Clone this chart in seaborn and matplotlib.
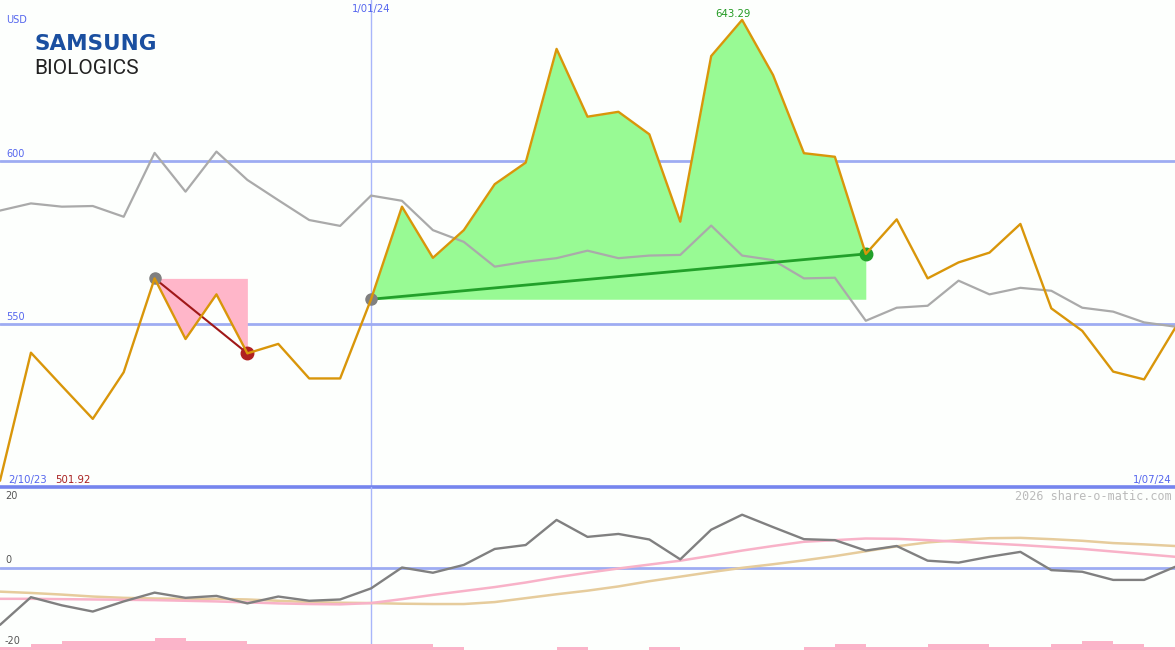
import matplotlib
matplotlib.use("Agg")
import matplotlib.pyplot as plt
import seaborn as sns
import pandas as pd

# weekly closing price (USD)
price = [501.92, 541.2, 531.0, 520.9, 535.2, 564.0, 545.4, 559.1, 541.0, 543.9,
         533.3, 533.3, 557.6, 586.0, 570.3, 578.8, 592.9, 599.5, 634.4, 613.6,
         615.1, 608.2, 581.4, 632.2, 643.29, 626.4, 602.4, 601.3, 571.5, 582.1,
         564.0, 568.9, 571.9, 580.7, 554.8, 547.9, 535.4, 533.0, 548.7]
# moving average
average = [584.8, 587.0, 586.0, 586.2, 582.9, 602.5, 590.6, 602.9, 594.2, 588.0,
           581.9, 580.1, 589.4, 587.8, 578.8, 575.2, 567.6, 569.1, 570.2, 572.5,
           570.2, 571.0, 571.2, 580.2, 571.0, 569.6, 564.0, 564.2, 551.0, 555.0,
           555.6, 563.3, 559.1, 561.1, 560.2, 555.0, 553.8, 550.5, 549.2]
# indicator panel
momentum = [-17.6, -9.1, -11.6, -13.5, -10.4, -7.7, -9.3, -8.7, -11.0, -8.9,
            -10.2, -9.8, -6.4, 0.0, -1.6, 0.8, 5.7, 6.9, 14.6, 9.4,
            10.3, 8.6, 2.5, 11.6, 16.2, 12.4, 8.7, 8.4, 5.2, 6.6,
            2.1, 1.5, 3.3, 4.8, -0.8, -1.3, -3.8, -3.8, 0.2]
signal_fast = [-9.6, -9.6, -9.7, -9.8, -9.9, -10.0, -10.2, -10.4, -10.7, -11.0,
               -11.2, -11.3, -10.9, -9.7, -8.4, -7.2, -6.0, -4.6, -3.0, -1.6,
               -0.3, 0.9, 2.1, 3.6, 5.2, 6.6, 7.9, 8.4, 8.9, 8.8,
               8.4, 7.9, 7.4, 6.9, 6.3, 5.7, 4.9, 4.1, 3.3]
signal_slow = [-7.4, -7.8, -8.3, -8.9, -9.3, -9.5, -9.6, -9.6, -9.8, -10.2,
               -10.6, -10.8, -10.9, -11.1, -11.2, -11.2, -10.6, -9.4, -8.2, -7.1,
               -5.8, -4.2, -2.8, -1.4, -0.1, 1.0, 2.2, 3.5, 5.0, 6.5,
               7.7, 8.4, 9.0, 9.1, 8.7, 8.2, 7.5, 7.1, 6.6]
volume = [1, 2, 3, 3, 3, 4, 3, 3, 2, 2, 2, 2, 2, 2, 1, 0, 0, 0, 1, 0,
          0, 1, 0, 0, 0, 0, 1, 2, 1, 1, 2, 2, 1, 1, 2, 3, 2, 1]

first_date, mid_date, last_date = "2/10/23", "1/01/24", "1/07/24"
mid_idx = 12
down_start, down_end = 5, 8
up_start, up_end = 12, 28
peak_idx = 24

df = pd.DataFrame({"i": range(len(price)), "price": price, "average": average,
                   "momentum": momentum, "fast": signal_fast, "slow": signal_slow})

BG = "#fdfffd"
BLUE_TXT = "#5566ee"
GRID = "#9eacf2"

sns.set_theme(style="white")
plt.rcParams["font.family"] = ["DejaVu Sans"]

fig = plt.figure(figsize=(11.75, 6.5), dpi=100, facecolor=BG)
ax = fig.add_axes([0, 163 / 650, 1, 487 / 650], facecolor=BG)
ax2 = fig.add_axes([0, 0, 1, 163 / 650])
ax2.patch.set_visible(False)

for a in (ax, ax2):
    a.set_xlim(0, len(price) - 1)
    for s in a.spines.values():
        s.set_visible(False)
    a.set_xticks([])
    a.set_yticks([])
    a.axvline(mid_idx, color="#a8b6fa", lw=1, zorder=0.5)

ax.set_ylim(500, 649.4)
ax2.set_ylim(-25.3, 24.7)

# main panel
for lvl in (600, 550):
    ax.axhline(lvl, color=GRID, lw=2, zorder=0.6)
ax.axhline(500, color="#7585ee", lw=2.6, zorder=6, clip_on=False)

xs = df["i"]
lvl_dn = price[down_start]
ax.fill_between(xs[down_start:down_end + 1], df["price"][down_start:down_end + 1], lvl_dn,
                color="#ffb6c9", lw=0, zorder=1)
lvl_up = price[up_start]
ax.fill_between(xs[up_start:up_end + 1], df["price"][up_start:up_end + 1], lvl_up,
                color="#98fa94", lw=0, zorder=1)

sns.lineplot(data=df, x="i", y="average", ax=ax, color="#aaaaaa", lw=1.6, zorder=2)
ax.plot([down_start, down_end], [price[down_start], price[down_end]], color="#a01818", lw=1.5, zorder=3)
ax.plot([up_start, up_end], [price[up_start], price[up_end]], color="#22a02a", lw=2, zorder=3)
ax.plot([down_start, up_start], [price[down_start], price[up_start]], "o", color="#808080", ms=8, zorder=4)
ax.plot([down_end], [price[down_end]], "o", color="#b02020", ms=9, zorder=4)
ax.plot([up_end], [price[up_end]], "o", color="#22a02a", ms=9, zorder=4)
sns.lineplot(data=df, x="i", y="price", ax=ax, color="#d9960a", lw=1.7, zorder=5)
ax.set_xlabel("")
ax.set_ylabel("")

ytr = ax.get_yaxis_transform()
xtr = ax.get_xaxis_transform()
ax.text(6 / 1175, 600.6, "600", transform=ytr, color=BLUE_TXT, fontsize=7, va="bottom")
ax.text(6 / 1175, 550.6, "550", transform=ytr, color=BLUE_TXT, fontsize=7, va="bottom")
ax.text(mid_idx, 1 - 9 / 487, mid_date, transform=xtr, color=BLUE_TXT, fontsize=7.3,
        ha="center", va="center")
ax.text(peak_idx - 0.3, price[peak_idx] + 0.4, f"{price[peak_idx]:.2f}", color="#229a22",
        fontsize=7.3, ha="center", va="bottom")
ax.text(8 / 1175, 7 / 487, first_date, transform=ax.transAxes, color=BLUE_TXT, fontsize=7.3, va="center")
ax.text(55 / 1175, 7 / 487, f"{min(price):.2f}", transform=ax.transAxes, color="#a82020",
        fontsize=7.3, va="center")
ax.text(1172 / 1175, 7 / 487, last_date, transform=ax.transAxes, color=BLUE_TXT, fontsize=7.3,
        ha="right", va="center")

fig.text(6 / 1175, 1 - 20 / 650, "USD", color=BLUE_TXT, fontsize=7, va="center")
fig.text(34 / 1175, 1 - 44 / 650, "SAMSUNG", color="#1a4fa0", fontsize=15.5,
         fontweight="bold", va="center")
fig.text(34 / 1175, 1 - 69 / 650, "BIOLOGICS", color="#222222", fontsize=15,
         family=["Roboto", "DejaVu Sans"], va="center")

# indicator panel
ax2.axhline(0, color=GRID, lw=2, zorder=0.6)
sns.lineplot(data=df, x="i", y="slow", ax=ax2, color="#e6cc9c", lw=1.8, zorder=2)
sns.lineplot(data=df, x="i", y="fast", ax=ax2, color="#f8b2c8", lw=1.8, zorder=2)
sns.lineplot(data=df, x="i", y="momentum", ax=ax2, color="#808080", lw=1.7, zorder=3)
ax2.set_xlabel("")
ax2.set_ylabel("")

ax3 = ax2.twinx()
ax3.set_ylim(0, 163 / 3)
ax3.bar(range(len(volume)), volume, width=1, align="edge", color="#fbb4c9", lw=0)
ax3.set_yticks([])
for s in ax3.spines.values():
    s.set_visible(False)

ytr2 = ax2.get_yaxis_transform()
for val, lab in ((20.4, "20"), (0.7, "0"), (-24.0, "-20")):
    ax2.text(5 / 1175, val, lab, transform=ytr2, color="#555555", fontsize=7, va="bottom")
fig.text(1172 / 1175, 1 - 496 / 650, "2026 share-o-matic.com", color="#bbbbbb",
         family=["DejaVu Sans Mono"], fontsize=8.5, ha="right", va="center")

fig.savefig("out.png", dpi=100, facecolor=BG)
